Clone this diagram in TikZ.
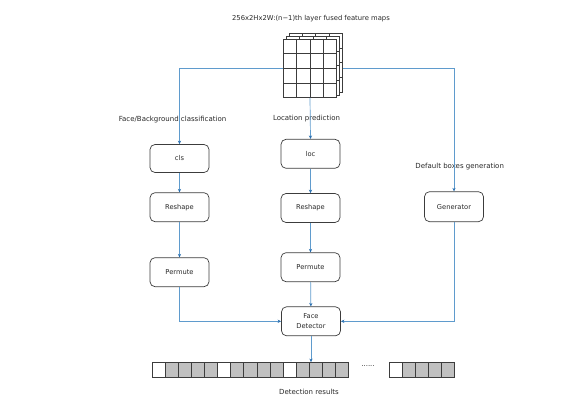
\documentclass[tikz,border=0pt]{standalone}
\usepackage{fontspec}
\setmainfont{DejaVu Sans}
\usetikzlibrary{arrows.meta}
\definecolor{lineblue}{RGB}{95,155,205}
\definecolor{tipblue}{RGB}{40,110,175}
\definecolor{cellgrey}{RGB}{192,192,192}
\definecolor{boxline}{RGB}{60,60,60}
\definecolor{txt}{RGB}{40,40,40}
\begin{document}
\begin{tikzpicture}[x=1pt,y=-1pt,
 box/.style={draw=boxline, line width=0.7pt, rounded corners=5pt, minimum width=59pt, minimum height=29pt, fill=white, text=txt, font=\fontsize{6.7}{10}\selectfont, align=center, inner sep=0pt},
 conn/.style={draw=lineblue, line width=0.7pt, -{Stealth[length=3.5pt,width=3.2pt,color=tipblue]}},
 lbl/.style={font=\fontsize{7}{8.5}\selectfont, text=txt, inner sep=0pt},
 cell/.style={draw=boxline, line width=0.6pt, minimum width=13.07pt, minimum height=15pt, inner sep=0pt, outer sep=0pt},
 gridline/.style={draw=boxline, line width=0.6pt}]
\useasboundingbox (0,0) rectangle (585,414);

% title and labels
\node[lbl, font=\fontsize{6.8}{8}\selectfont] (title) at (311,18.5) {256x2Hx2W:(n−1)th layer fused feature maps};
\node[lbl] (lblcls) at (172.5,119.5) {Face/Background classification};
\node[lbl] (lblloc) at (306.5,119) {Location prediction};
\node[lbl] (lblgen) at (459.7,166.7) {Default boxes generation};

% boxes
\node[box, minimum height=28pt] (cls) at (179.5,158.5) {cls};
\node[box] (loc) at (310.5,153.8) {loc};
\node[box] (reshL) at (179.5,207.2) {Reshape};
\node[box] (reshM) at (310.5,208) {Reshape};
\node[box, minimum height=30pt] (gen) at (454,206.7) {Generator};
\node[box] (permL) at (179.5,272.2) {Permute};
\node[box] (permM) at (310.5,267.2) {Permute};
\node[box] (fd) at (311,321.3) {Face\\Detector};

% connectors
\coordinate (split) at (310,68.35);
\draw[conn] (split) -| (cls.north);
\draw[conn] (split) -| (gen.north);
\draw[conn] (cls) -- (reshL);
\draw[conn] (reshL) -- (permL);
\draw[conn] (loc) -- (reshM);
\draw[conn] (reshM) -- (permM);
\draw[conn] (permM) -- (fd);
\draw[conn] (permL.south) |- (fd.west);
\draw[conn] (gen.south) |- (fd.east);

% feature map stack
\foreach \k in {2,1} {
  \begin{scope}[shift={(2.8*\k,-2.8*\k)}]
    \fill[white] (283.3,39) rectangle (336.7,97.7);
    \draw[gridline] (283.3,39) rectangle (336.7,97.7);
    \foreach \j in {1,2,3} {
      \draw[gridline] ({283.3+13.35*\j},39) -- ({283.3+13.35*\j},97.7);
      \draw[gridline] (283.3,{39+14.675*\j}) -- (336.7,{39+14.675*\j});
    }
  \end{scope}
}
\node[draw=boxline, line width=0.6pt, fill=white, minimum width=53.4pt, minimum height=58.7pt, inner sep=0pt] (cube) at (310,68.35) {};
\foreach \j in {1,2,3} {
  \draw[gridline] ({283.3+13.35*\j},39) -- ({283.3+13.35*\j},97.7);
  \draw[gridline] (283.3,{39+14.675*\j}) -- (336.7,{39+14.675*\j});
}
\draw[conn] (cube.south) -- (loc.north);

% detection results
\node[inner sep=0pt, minimum width=196pt, minimum height=15pt] (bar) at (250.3,369.8) {};
\foreach \g in {0,1,2} {
  \node[cell, fill=white] at ({152.3+13.07*(5*\g)+6.535},369.8) {};
  \foreach \j in {1,...,4} {
    \node[cell, fill=cellgrey] at ({152.3+13.07*(5*\g+\j)+6.535},369.8) {};
  }
}
\node[cell, fill=white] at ({389.3+6.535},369.8) {};
\foreach \j in {1,...,4} {
  \node[cell, fill=cellgrey] at ({389.3+13.07*\j+6.535},369.8) {};
}
\draw[conn] (fd.south) -- (fd.south |- bar.north);
\node[lbl] (dots) at (368,366) {......};
\node[lbl] (detres) at (309,391.7) {Detection results};
\end{tikzpicture}
\end{document}
